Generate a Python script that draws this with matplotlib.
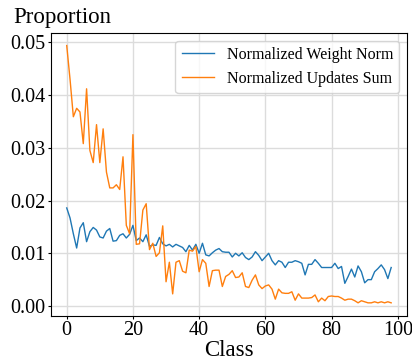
import numpy as np
import matplotlib
matplotlib.use('Agg')
import matplotlib.pyplot as plt

plt.rcParams['font.family'] = ['Liberation Serif', 'DejaVu Serif']

# class index 0..98
classes = np.arange(99)

weight_norm = [
    0.0186, 0.0167, 0.0137, 0.0110, 0.0148, 0.0158, 0.0122, 0.0141, 0.0149, 0.0144,
    0.0131, 0.0129, 0.0142, 0.0147, 0.0123, 0.0124, 0.0134, 0.0137, 0.0129, 0.0136,
    0.0153, 0.0124, 0.0129, 0.0122, 0.0135, 0.0113, 0.0116, 0.0115, 0.0130, 0.0118,
    0.0114, 0.0117, 0.0112, 0.0117, 0.0114, 0.0111, 0.0103, 0.0115, 0.0106, 0.0117,
    0.0100, 0.0119, 0.0097, 0.0095, 0.0101, 0.0106, 0.0109, 0.0103, 0.0102, 0.0102,
    0.0093, 0.0100, 0.0095, 0.0101, 0.0092, 0.0088, 0.0093, 0.0103, 0.0096, 0.0086,
    0.0093, 0.0100, 0.0086, 0.0078, 0.0086, 0.0083, 0.0073, 0.0083, 0.0083, 0.0086,
    0.0084, 0.0081, 0.0059, 0.0079, 0.0079, 0.0088, 0.0081, 0.0073, 0.0073, 0.0073,
    0.0073, 0.0081, 0.0071, 0.0075, 0.0043, 0.0056, 0.0070, 0.0055, 0.0076, 0.0065,
    0.0044, 0.0050, 0.0050, 0.0065, 0.0071, 0.0078, 0.0069, 0.0052, 0.0073,
]

updates_sum = [
    0.0494, 0.0430, 0.0359, 0.0375, 0.0368, 0.0308, 0.0412, 0.0295, 0.0272, 0.0344,
    0.0272, 0.0336, 0.0254, 0.0224, 0.0224, 0.0230, 0.0221, 0.0283, 0.0153, 0.0137,
    0.0325, 0.0117, 0.0118, 0.0182, 0.0194, 0.0107, 0.0119, 0.0094, 0.0101, 0.0152,
    0.0046, 0.0083, 0.0023, 0.0083, 0.0086, 0.0066, 0.0063, 0.0106, 0.0104, 0.0113,
    0.0065, 0.0088, 0.0081, 0.0037, 0.0067, 0.0068, 0.0068, 0.0037, 0.0056, 0.0060,
    0.0067, 0.0054, 0.0055, 0.0063, 0.0037, 0.0035, 0.0049, 0.0059, 0.0040, 0.0033,
    0.0038, 0.0040, 0.0032, 0.0013, 0.0032, 0.0025, 0.0024, 0.0024, 0.0027, 0.0011,
    0.0023, 0.0015, 0.0015, 0.0015, 0.0016, 0.0021, 0.0008, 0.0015, 0.0010, 0.0018,
    0.0019, 0.0018, 0.0018, 0.0015, 0.0011, 0.0013, 0.0013, 0.0010, 0.0006, 0.0010,
    0.0008, 0.0006, 0.0006, 0.0008, 0.0006, 0.0008, 0.0006, 0.0008, 0.0006,
]

fig = plt.figure(figsize=(4.12, 3.6), dpi=100)
ax = fig.add_axes([50.5/412, 1-315.7/360, (407.4-50.5)/412, (315.7-32.7)/360])

ax.plot(classes, weight_norm, color='#1f77b4', lw=1.0, label='Normalized Weight Norm')
ax.plot(classes, updates_sum, color='#ff7f0e', lw=1.0, label='Normalized Updates Sum')

ax.grid(True, color='#dcdcdc', lw=1.0)
ax.set_axisbelow(True)
ax.set_xticks([0, 20, 40, 60, 80, 100])
ax.set_yticks([0.0, 0.01, 0.02, 0.03, 0.04, 0.05])
ax.set_yticklabels(['0.00', '0.01', '0.02', '0.03', '0.04', '0.05'])
ax.tick_params(labelsize=14.5, length=2, pad=1.5)
ax.set_xlabel('Class', fontsize=16.5, labelpad=0)

fig.text(13/412, 1-22.7/360, 'Proportion', fontsize=16.5, va='baseline', ha='left')

ax.legend(loc='upper right', fontsize=11.5, framealpha=0.8)

fig.savefig('out.png', dpi=100)
